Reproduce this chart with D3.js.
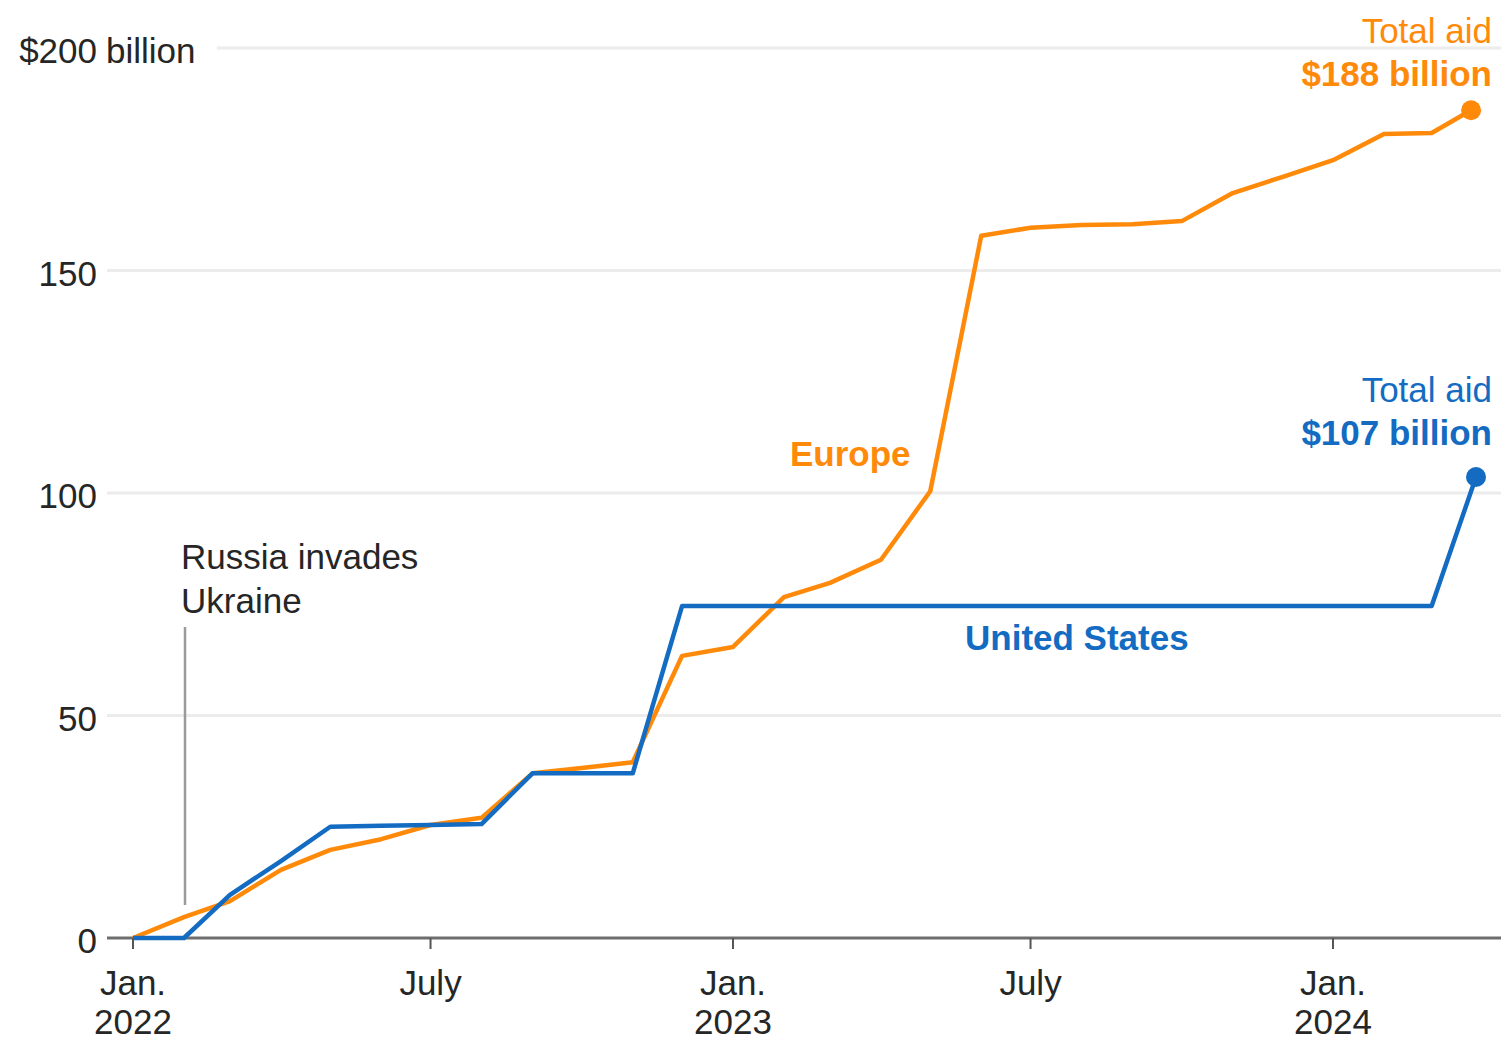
<!DOCTYPE html>
<html>
<head>
<meta charset="utf-8">
<script src="https://cdn.jsdelivr.net/npm/d3@7"></script>
<style>
  html, body { margin: 0; padding: 0; background: #fff; }
  svg { display: block; font-family: "Liberation Sans", Arial, sans-serif; }
</style>
</head>
<body>
<svg id="chart" width="1501" height="1043"></svg>
<script>
// ---- Data (billions of dollars, cumulative) ----
const europeDates = ["2022-01-01","2022-02-01","2022-03-01","2022-04-01","2022-05-01","2022-06-01","2022-07-01","2022-08-01","2022-09-01","2022-10-01","2022-11-01","2022-12-01","2023-01-01","2023-02-01","2023-03-01","2023-04-01","2023-05-01","2023-06-01","2023-07-01","2023-08-01","2023-09-01","2023-10-01","2023-11-01","2023-12-01","2024-01-01","2024-02-01","2024-03-01","2024-03-25"];
const europeValues = [0, 4.7, 8.3, 15.3, 19.8, 22.2, 25.4, 27, 37, 38.2, 39.5, 63.4, 65.4, 76.6, 79.8, 85, 100.4, 157.8, 159.6, 160.2, 160.4, 161.1, 167.4, 171, 174.8, 180.7, 180.9, 186];

const usDates = ["2022-01-01","2022-02-01","2022-03-01","2022-04-01","2022-05-01","2022-06-01","2022-07-01","2022-08-01","2022-09-01","2022-10-01","2022-11-01","2022-12-01","2023-06-01","2024-01-01","2024-03-01","2024-03-28"];
const usValues = [0, 0, 9.7, 17.3, 25, 25.2, 25.4, 25.6, 37, 37, 37, 74.6, 74.6, 74.6, 74.6, 103.6];

const yTicks = [0, 50, 100, 150, 200];
const xTickDates = ["2022-01-01","2022-07-01","2023-01-01","2023-07-01","2024-01-01"];
const xTickLine1 = ["Jan.", "July", "Jan.", "July", "Jan."];
const xTickLine2 = ["2022", "", "2023", "", "2024"];

const europeLabelTop = "Total aid";
const europeLabelValue = "$188 billion";
const usLabelTop = "Total aid";
const usLabelValue = "$107 billion";

// ---- Setup ----
const parse = d3.timeParse("%Y-%m-%d");
const ORANGE = "#ff8a0a";
const BLUE = "#136cc2";
const TEXT = "#262626";

const svg = d3.select("#chart");
const x = d3.scaleTime()
  .domain([parse("2022-01-01"), parse("2024-01-01")])
  .range([133, 1333]);
const y = d3.scaleLinear().domain([0, 200]).range([938, 48]);

const europe = europeDates.map((d, i) => ({ date: parse(d), value: europeValues[i] }));
const us = usDates.map((d, i) => ({ date: parse(d), value: usValues[i] }));

// ---- Gridlines ----
svg.append("g").selectAll("line")
  .data(yTicks.filter(t => t > 0))
  .join("line")
  .attr("x1", d => d === 200 ? 217 : 107)
  .attr("x2", 1501)
  .attr("y1", d => y(d)).attr("y2", d => y(d))
  .attr("stroke", "#ececec")
  .attr("stroke-width", 3);

// ---- Y labels ----
const yLab = svg.append("g").attr("font-size", 35).attr("fill", TEXT);
yLab.selectAll("text")
  .data(yTicks)
  .join("text")
  .attr("x", 97)
  .attr("y", d => y(d) + 15)
  .attr("text-anchor", "end")
  .text(d => d === 200 ? "$200" : d);
yLab.append("text")
  .attr("x", 106)
  .attr("y", y(200) + 15)
  .text("billion");

// ---- Annotation ----
svg.append("line")
  .attr("x1", 185).attr("x2", 185)
  .attr("y1", 627).attr("y2", 905)
  .attr("stroke", "#9a9a9a").attr("stroke-width", 2.5);
const ann = svg.append("text").attr("font-size", 35).attr("fill", TEXT);
ann.append("tspan").attr("x", 181).attr("y", 569).text("Russia invades");
ann.append("tspan").attr("x", 181).attr("y", 613).text("Ukraine");

// ---- X axis ----
svg.append("line")
  .attr("x1", 107).attr("x2", 1501)
  .attr("y1", y(0)).attr("y2", y(0))
  .attr("stroke", "#6e6e6e").attr("stroke-width", 3);
const xt = svg.append("g").selectAll("g")
  .data(xTickDates.map((d, i) => ({ date: parse(d), l1: xTickLine1[i], l2: xTickLine2[i] })))
  .join("g")
  .attr("transform", d => `translate(${x(d.date)},0)`);
xt.append("line")
  .attr("y1", y(0)).attr("y2", y(0) + 11)
  .attr("stroke", "#555").attr("stroke-width", 2);
xt.append("text")
  .attr("y", 995).attr("text-anchor", "middle")
  .attr("font-size", 35).attr("fill", TEXT)
  .text(d => d.l1);
xt.append("text")
  .attr("y", 1034).attr("text-anchor", "middle")
  .attr("font-size", 35).attr("fill", TEXT)
  .text(d => d.l2);

// ---- Lines ----
const line = d3.line().x(d => x(d.date)).y(d => y(d.value));
svg.append("path").datum(europe)
  .attr("d", line).attr("fill", "none")
  .attr("stroke", ORANGE).attr("stroke-width", 4.5)
  .attr("stroke-linejoin", "round");
svg.append("path").datum(us)
  .attr("d", line).attr("fill", "none")
  .attr("stroke", BLUE).attr("stroke-width", 4.5)
  .attr("stroke-linejoin", "round");

// End dots
const eLast = europe[europe.length - 1];
const uLast = us[us.length - 1];
svg.append("circle").attr("cx", x(eLast.date)).attr("cy", y(eLast.value)).attr("r", 10).attr("fill", ORANGE);
svg.append("circle").attr("cx", x(uLast.date)).attr("cy", y(uLast.value)).attr("r", 10).attr("fill", BLUE);

// ---- Series labels ----
svg.append("text").attr("x", 790).attr("y", 466)
  .attr("font-size", 35).attr("font-weight", "bold").attr("fill", ORANGE)
  .text("Europe");
svg.append("text").attr("x", 965).attr("y", 650)
  .attr("font-size", 35).attr("font-weight", "bold").attr("fill", BLUE)
  .text("United States");

// ---- End labels ----
svg.append("text").attr("x", 1492).attr("y", 43).attr("text-anchor", "end")
  .attr("font-size", 35).attr("fill", ORANGE).text(europeLabelTop);
svg.append("text").attr("x", 1492).attr("y", 86).attr("text-anchor", "end")
  .attr("font-size", 35).attr("font-weight", "bold").attr("fill", ORANGE).text(europeLabelValue);
svg.append("text").attr("x", 1492).attr("y", 402).attr("text-anchor", "end")
  .attr("font-size", 35).attr("fill", BLUE).text(usLabelTop);
svg.append("text").attr("x", 1492).attr("y", 445).attr("text-anchor", "end")
  .attr("font-size", 35).attr("font-weight", "bold").attr("fill", BLUE).text(usLabelValue);
</script>
</body>
</html>
